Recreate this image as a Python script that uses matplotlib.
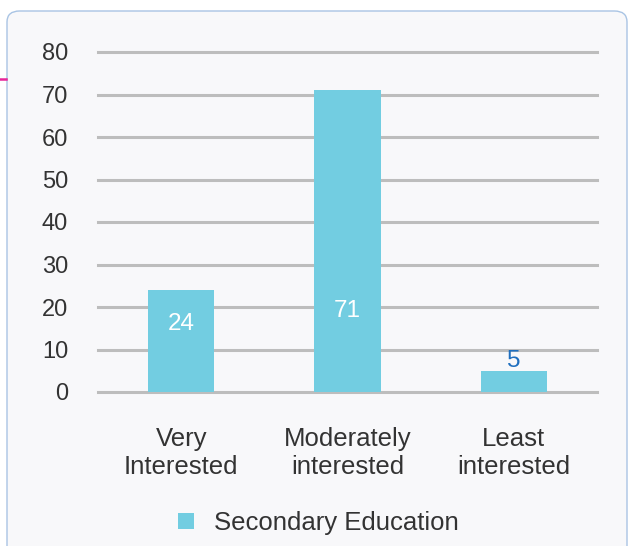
import matplotlib.pyplot as plt
from matplotlib.patches import FancyBboxPatch
import numpy as np

plt.rcParams['font.family'] = ['Liberation Sans', 'DejaVu Sans']

categories = ["Very\nInterested", "Moderately\ninterested", "Least\ninterested"]
values = [24, 71, 5]
series_name = "Secondary Education"
yticks = [0, 10, 20, 30, 40, 50, 60, 70, 80]

bar_color = "#72CDE1"
grid_color = "#BDBDBD"
text_color = "#333333"

fig = plt.figure(figsize=(6.29, 5.46), dpi=100)
fig.patch.set_facecolor("white")

# rounded panel behind the chart
panel = FancyBboxPatch((7 / 629, -0.1), 620 / 629, 1.1 - 11 / 546,
                       boxstyle="round,pad=0,rounding_size=0.02",
                       transform=fig.transFigure, facecolor="#F8F8FA",
                       edgecolor="#A9C4E4", linewidth=1.0, zorder=-10)
fig.add_artist(panel)
# small pink marker on the left edge
fig.add_artist(plt.Line2D([0, 6 / 629], [1 - 79 / 546] * 2, color="#E8259A",
                          linewidth=1.8, transform=fig.transFigure, zorder=-5))

ax = fig.add_axes([98 / 629, 1 - 392 / 546, 499 / 629, 340 / 546])
ax.set_facecolor("none")
ax.set_zorder(1)

x = np.arange(len(categories))
bars = ax.bar(x, values, width=0.4, color=bar_color, zorder=3)

ax.set_xlim(-0.5, 2.5)
ax.set_ylim(0, 80)
ax.set_yticks(yticks)
ax.yaxis.grid(True, color=grid_color, linewidth=2.2)
for gl in ax.get_ygridlines():
    gl.set_clip_on(False)
ax.set_axisbelow(True)
for s in ax.spines.values():
    s.set_visible(False)
ax.tick_params(axis="y", length=0, pad=21.5, labelsize=17, labelcolor=text_color)
ax.tick_params(axis="x", length=0, pad=25, labelsize=18.5, labelcolor=text_color)
ax.set_xticks(x)
ax.set_xticklabels(categories, linespacing=1.23)

# value labels
ax.text(x[0], values[0] - 8, str(values[0]), ha="center", va="center",
        color="white", fontsize=17.5, zorder=4)
ax.text(x[1], 19, str(values[1]), ha="center", va="center",
        color="white", fontsize=17.5, zorder=4)
ax.text(x[2], values[2] + 2.3, str(values[2]), ha="center", va="center",
        color="#1F6FBF", fontsize=17.5, zorder=4)

leg = ax.legend([bars], [series_name], loc="center", bbox_to_anchor=(0.442, -0.385),
                frameon=False, fontsize=18.5, handlelength=0.6, handleheight=0.6,
                handletextpad=0.8, labelcolor=text_color)

fig.savefig("out.png", dpi=100)
